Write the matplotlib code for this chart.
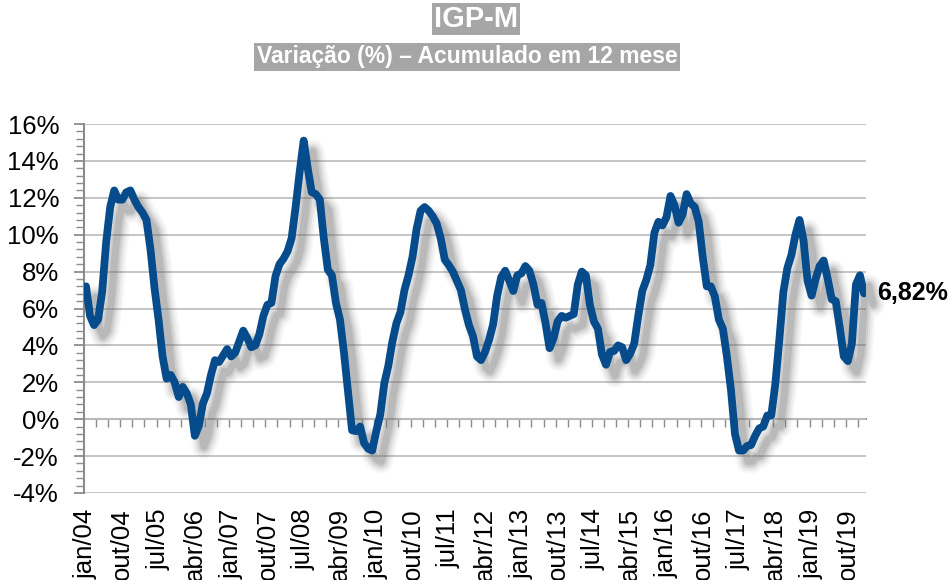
import numpy as np
import matplotlib
matplotlib.use("Agg")
import matplotlib.pyplot as plt
from matplotlib.ticker import MultipleLocator
from matplotlib.transforms import offset_copy

plt.rcParams['font.family'] = ['Liberation Sans', 'DejaVu Sans']

# IGP-M, variacao acumulada em 12 meses (%), jan/04 a fev/20
igpm_2004 = [7.2, 5.6, 5.1, 5.4, 6.9, 9.6, 11.5, 12.4, 11.9, 11.9, 12.3, 12.4]
igpm_2005 = [11.9, 11.5, 11.2, 10.8, 9.2, 7.1, 5.4, 3.4, 2.2, 2.4, 2.0, 1.2]
igpm_2006 = [1.75, 1.4, 0.8, -0.9, -0.35, 0.85, 1.4, 2.4, 3.2, 3.1, 3.45, 3.8]
igpm_2007 = [3.4, 3.6, 4.2, 4.8, 4.4, 3.9, 4.0, 4.6, 5.6, 6.2, 6.3, 7.75]
igpm_2008 = [8.4, 8.7, 9.1, 9.8, 11.5, 13.4, 15.1, 13.6, 12.3, 12.2, 11.9, 9.8]
igpm_2009 = [8.1, 7.8, 6.3, 5.4, 3.6, 1.5, -0.6, -0.65, -0.4, -1.3, -1.6, -1.7]
igpm_2010 = [-0.65, 0.25, 1.95, 2.9, 4.2, 5.2, 5.8, 7.0, 7.8, 8.8, 10.3, 11.3]
igpm_2011 = [11.5, 11.3, 11.0, 10.6, 9.8, 8.65, 8.35, 8.0, 7.5, 7.0, 5.95, 5.1]
igpm_2012 = [4.5, 3.4, 3.2, 3.65, 4.3, 5.15, 6.7, 7.7, 8.05, 7.5, 6.95, 7.8]
igpm_2013 = [7.9, 8.3, 8.05, 7.3, 6.2, 6.3, 5.2, 3.85, 4.4, 5.3, 5.6, 5.5]
igpm_2014 = [5.6, 5.7, 7.3, 8.0, 7.8, 6.2, 5.3, 4.9, 3.5, 2.95, 3.65, 3.7]
igpm_2015 = [4.0, 3.9, 3.2, 3.55, 4.1, 5.6, 6.95, 7.55, 8.35, 10.1, 10.7, 10.5]
igpm_2016 = [10.95, 12.1, 11.6, 10.65, 11.1, 12.2, 11.7, 11.5, 10.7, 8.8, 7.2, 7.2]
igpm_2017 = [6.65, 5.4, 4.9, 3.4, 1.6, -0.8, -1.7, -1.7, -1.45, -1.4, -0.9, -0.5]
igpm_2018 = [-0.4, 0.2, 0.2, 1.9, 4.3, 6.9, 8.2, 8.9, 10.0, 10.8, 9.7, 7.5]
igpm_2019 = [6.7, 7.6, 8.3, 8.6, 7.6, 6.5, 6.4, 4.95, 3.4, 3.15, 4.1, 7.3]
igpm_2020 = [7.8, 6.82]

x_labels = ['jan/04', 'out/04', 'jul/05', 'abr/06', 'jan/07', 'out/07', 'jul/08',
            'abr/09', 'jan/10', 'out/10', 'jul/11', 'abr/12', 'jan/13', 'out/13',
            'jul/14', 'abr/15', 'jan/16', 'out/16', 'jul/17', 'abr/18', 'jan/19',
            'out/19']
y_ticks = [-4, -2, 0, 2, 4, 6, 8, 10, 12, 14, 16]
y_labels = ['-4%', '-2%', '0%', '2%', '4%', '6%', '8%', '10%', '12%', '14%', '16%']

igpm = np.array(igpm_2004 + igpm_2005 + igpm_2006 + igpm_2007 + igpm_2008 +
                igpm_2009 + igpm_2010 + igpm_2011 + igpm_2012 + igpm_2013 +
                igpm_2014 + igpm_2015 + igpm_2016 + igpm_2017 + igpm_2018 +
                igpm_2019 + igpm_2020)
x = np.arange(len(igpm))

W, H = 952, 580
fig = plt.figure(figsize=(W / 100, H / 100), dpi=100)
ax = fig.add_axes([84 / W, 1 - 493 / H, 782 / W, 369 / H])

blue = '#064C8C'
grey_axis = '#8c8c8c'

# soft shadow (several offset grey strokes)
shadow_tr = offset_copy(ax.transData, fig=fig, x=9, y=-11, units='dots')
for lw, a in [(17, 0.05), (14, 0.07), (11, 0.10), (8, 0.15), (5, 0.2)]:
    ax.plot(x, igpm, color='#6a6a6a', lw=lw, alpha=a, transform=shadow_tr,
            solid_joinstyle='round', solid_capstyle='round', zorder=2, clip_on=False)

ax.plot(x, igpm, color=blue, lw=5.6, solid_joinstyle='round',
        solid_capstyle='round', zorder=4)

ax.set_xlim(-0.5, len(igpm) - 0.5)
ax.set_ylim(-4, 16)

# y axis
ax.set_yticks(y_ticks)
ax.set_yticklabels(y_labels)
ax.yaxis.set_minor_locator(MultipleLocator(0.4))
ax.tick_params(axis='y', which='major', length=7, width=1.3, color=grey_axis,
               labelsize=18.5, pad=11)
ax.tick_params(axis='y', which='minor', length=6, width=1.0, color=grey_axis)
ax.grid(axis='y', which='major', color='#c0c0c0', lw=1.3, zorder=1)
ax.set_axisbelow(True)

# x labels at the bottom
ax.set_xticks(x[::9])
ax.set_xticklabels(x_labels, rotation=90, fontsize=18.5, va='top')
ax.tick_params(axis='x', which='both', length=0, pad=11)

for side in ['top', 'right', 'bottom']:
    ax.spines[side].set_visible(False)
ax.spines['left'].set_color(grey_axis)
ax.spines['left'].set_linewidth(1.5)

# category axis crossing at 0%
sec = ax.secondary_xaxis(0.2)
sec.set_xticks(np.arange(2.5, len(igpm), 3))
sec.set_xticklabels([])
sec.tick_params(axis='x', direction='out', length=6, width=1.0, color=grey_axis)
sec.spines['bottom'].set_color(grey_axis)
sec.spines['bottom'].set_linewidth(1.5)

# last value label
last = igpm[-1]
ax.annotate(f'{last:.2f}%'.replace('.', ','), xy=(x[-1], last),
            xytext=(13, 0), textcoords='offset pixels', ha='left', va='center',
            fontsize=18, fontweight='bold', annotation_clip=False)

# titles with grey boxes
title_font = ['Liberation Sans Narrow', 'Liberation Sans', 'DejaVu Sans']
fig.text(476 / W, 1 - 19 / H, 'IGP-M', ha='center', va='center', color='white',
         fontsize=21, fontweight='bold', family=title_font,
         bbox=dict(facecolor='#a6a6a6', edgecolor='none', pad=1.5))
fig.text(467 / W, 1 - 57 / H, 'Variação (%) – Acumulado em 12 mese', ha='center',
         va='center', color='white', fontsize=16.5, fontweight='bold',
         family=title_font,
         bbox=dict(facecolor='#a6a6a6', edgecolor='none', pad=2))

fig.savefig('out.png', dpi=100, facecolor='white')
